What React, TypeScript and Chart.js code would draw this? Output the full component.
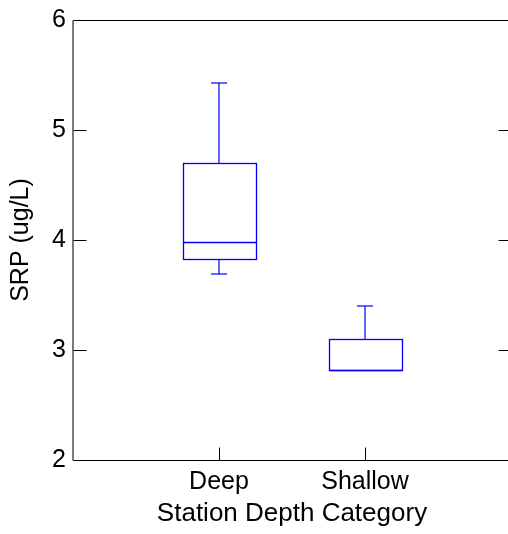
import React, { useEffect, useRef } from 'react';
import { Chart, registerables } from 'chart.js';

Chart.register(...registerables);

const categories = ['Deep', 'Shallow'];
const whiskerLow = [3.69, 2.82];
const quartile1 = [3.83, 2.82];
const medians = [3.98, 2.82];
const quartile3 = [4.7, 3.1];
const whiskerHigh = [5.43, 3.4];
const yTickValues = [2, 3, 4, 5, 6];
const xRange = [0, 3];
const yRange = [2, 6];

const BLUE = '#0000ff';
const FONT = "'Liberation Sans', Arial, Helvetica, sans-serif";
const BOX_HALF = 0.25;
const CAP_HALF = 0.055;
const TICK_LEN = 13;

const boxPlugin = {
  id: 'boxExtras',
  afterDatasetsDraw(chart: any) {
    const { ctx, chartArea: a, scales } = chart;
    const x = scales.x;
    const y = scales.y;
    const crisp = (v: number) => Math.round(v) + 0.5;
    ctx.save();
    ctx.lineWidth = 1;
    ctx.strokeStyle = BLUE;
    const line = (x1: number, y1: number, x2: number, y2: number) => {
      ctx.beginPath();
      ctx.moveTo(x1, y1);
      ctx.lineTo(x2, y2);
      ctx.stroke();
    };
    categories.forEach((_, i) => {
      const pos = i + 1;
      const cx = Math.round(x.getPixelForValue(pos));
      const bl = x.getPixelForValue(pos - BOX_HALF);
      const br = x.getPixelForValue(pos + BOX_HALF);
      const cl = x.getPixelForValue(pos - CAP_HALF);
      const cr = x.getPixelForValue(pos + CAP_HALF);
      const yMed = crisp(y.getPixelForValue(medians[i]));
      const yQ1 = crisp(y.getPixelForValue(quartile1[i]));
      const yQ3 = crisp(y.getPixelForValue(quartile3[i]));
      const yLo = Math.round(y.getPixelForValue(whiskerLow[i]));
      const yHi = Math.round(y.getPixelForValue(whiskerHigh[i]));
      // whiskers (soft, like the reference)
      ctx.lineWidth = 1.2;
      if (whiskerHigh[i] > quartile3[i]) {
        line(cx, yQ3, cx, yHi);
        line(Math.round(cl), yHi, Math.round(cr), yHi);
      }
      if (whiskerLow[i] < quartile1[i]) {
        line(cx, yQ1, cx, yLo);
        line(Math.round(cl), yLo, Math.round(cr), yLo);
      }
      ctx.lineWidth = 1.3;
      // box
      ctx.strokeRect(crisp(bl), yQ3, Math.round(br - bl), yQ1 - yQ3);
      // median
      line(crisp(bl), yMed, crisp(br), yMed);
    });
    // frame
    ctx.lineWidth = 1;
    ctx.strokeStyle = '#000';
    const L = crisp(a.left);
    const R = crisp(a.right);
    const T = crisp(a.top);
    const B = crisp(a.bottom);
    line(L, T, R, T);
    line(R, T, R, B);
    line(L, B, R, B);
    ctx.strokeStyle = '#333';
    ctx.lineWidth = 1.3;
    line(Math.round(a.left), T, Math.round(a.left), B);
    ctx.strokeStyle = '#000';
    ctx.lineWidth = 1;
    // inward ticks
    yTickValues.forEach((v) => {
      const py = crisp(y.getPixelForValue(v));
      line(L, py, L + TICK_LEN, py);
      line(R, py, R - TICK_LEN, py);
    });
    categories.forEach((_, i) => {
      const px = crisp(x.getPixelForValue(i + 1));
      line(px, B, px, B - TICK_LEN);
    });
    ctx.restore();
  },
};

export default function App() {
  const canvasRef = useRef<HTMLCanvasElement | null>(null);

  useEffect(() => {
    const canvas = canvasRef.current;
    if (!canvas) return;
    const chart = new Chart(canvas, {
      type: 'scatter',
      data: {
        datasets: [
          {
            label: 'SRP',
            data: categories.map((_, i) => ({ x: i + 1, y: medians[i] })),
            pointRadius: 0,
            pointHoverRadius: 0,
            showLine: false,
          },
        ],
      },
      options: {
        responsive: false,
        animation: false,
        devicePixelRatio: 1,
        layout: { padding: { top: 20, right: 19, left: 0, bottom: 0 } },
        plugins: {
          legend: { display: false },
          tooltip: { enabled: false },
        },
        scales: {
          x: {
            type: 'linear',
            position: 'bottom',
            min: xRange[0],
            max: xRange[1],
            offset: false,
            grid: { display: false, drawTicks: false },
            border: { display: false },
            afterBuildTicks: (scale: any) => {
              scale.ticks = categories.map((_, i) => ({ value: i + 1 }));
            },
            afterFit: (scale: any) => {
              scale.height = 74;
              scale.paddingLeft = 0;
              scale.paddingRight = 0;
            },
            ticks: {
              autoSkip: false,
              maxRotation: 0,
              padding: 7,
              color: '#000',
              font: { family: FONT, size: 25 },
              callback: (v: any) => categories[Number(v) - 1] ?? '',
            },
            title: {
              display: true,
              text: 'Station Depth Category',
              color: '#000',
              font: { family: FONT, size: 26 },
              padding: { top: 0, bottom: 5 },
            },
          },
          y: {
            type: 'linear',
            position: 'left',
            min: yRange[0],
            max: yRange[1],
            grid: { display: false, drawTicks: false },
            border: { display: false },
            afterBuildTicks: (scale: any) => {
              scale.ticks = yTickValues.map((v) => ({ value: v }));
            },
            afterFit: (scale: any) => {
              scale.width = 73;
              scale.paddingTop = 0;
              scale.paddingBottom = 0;
            },
            ticks: {
              padding: 7,
              color: '#000',
              font: { family: FONT, size: 25 },
              callback: (v: any) => String(v),
            },
            title: {
              display: true,
              text: 'SRP (ug/L)',
              color: '#000',
              font: { family: FONT, size: 25 },
              padding: { top: 6, bottom: 0 },
            },
          },
        },
      },
      plugins: [boxPlugin],
    });
    return () => chart.destroy();
  }, []);

  return (
    <div
      style={{
        position: 'fixed',
        left: 0,
        top: 0,
        width: 508,
        height: 534,
        overflow: 'hidden',
        background: '#fff',
      }}
    >
      <canvas
        ref={canvasRef}
        width={530}
        height={534}
        style={{ display: 'block', width: 530, height: 534 }}
      />
    </div>
  );
}
